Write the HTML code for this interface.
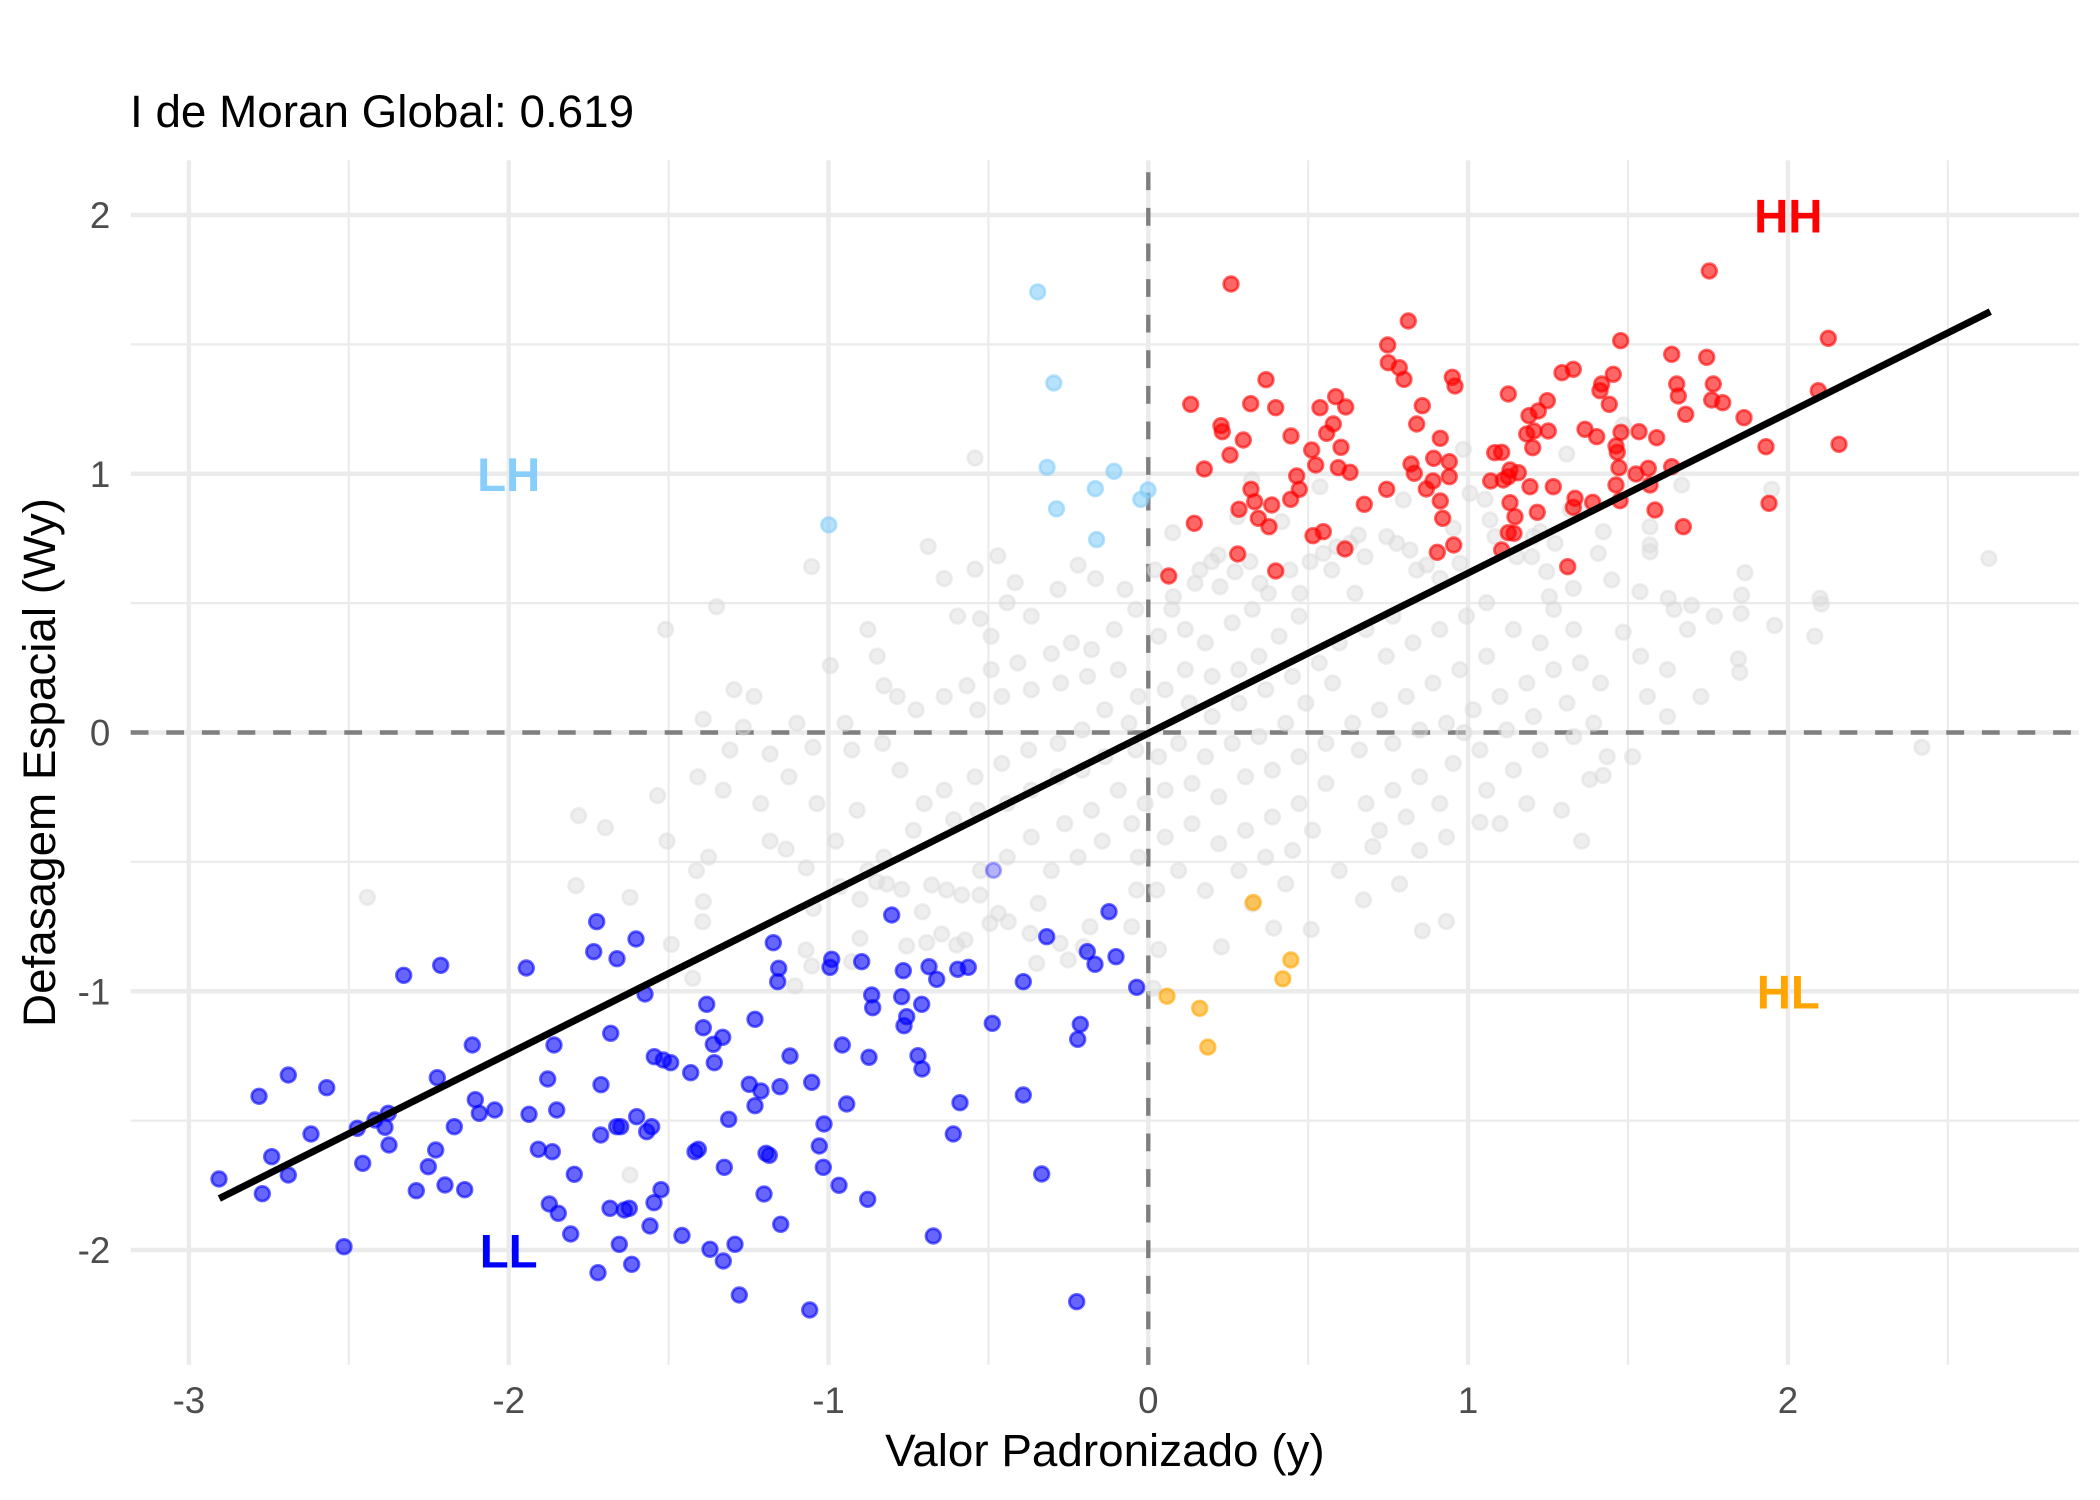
<!DOCTYPE html>
<html><head><meta charset="utf-8"><style>html,body{margin:0;padding:0;background:#fff}svg{display:block}</style></head>
<body>
<svg width="2100" height="1500" viewBox="0 0 2100 1500" xmlns="http://www.w3.org/2000/svg" font-family="'Liberation Sans', Arial, sans-serif">
<rect width="2100" height="1500" fill="#fff"/>
<g stroke="#EBEBEB" stroke-width="2.2">
<line x1="348.8" y1="160.2" x2="348.8" y2="1364.9"/><line x1="668.6" y1="160.2" x2="668.6" y2="1364.9"/><line x1="988.4" y1="160.2" x2="988.4" y2="1364.9"/><line x1="1308.2" y1="160.2" x2="1308.2" y2="1364.9"/><line x1="1628" y1="160.2" x2="1628" y2="1364.9"/><line x1="1947.8" y1="160.2" x2="1947.8" y2="1364.9"/>
<line x1="130.7" y1="344.4" x2="2079" y2="344.4"/><line x1="130.7" y1="603.1" x2="2079" y2="603.1"/><line x1="130.7" y1="861.9" x2="2079" y2="861.9"/><line x1="130.7" y1="1120.6" x2="2079" y2="1120.6"/>
</g>
<g stroke="#EBEBEB" stroke-width="4.4">
<line x1="188.9" y1="160.2" x2="188.9" y2="1364.9"/><line x1="508.7" y1="160.2" x2="508.7" y2="1364.9"/><line x1="828.5" y1="160.2" x2="828.5" y2="1364.9"/><line x1="1148.3" y1="160.2" x2="1148.3" y2="1364.9"/><line x1="1468.1" y1="160.2" x2="1468.1" y2="1364.9"/><line x1="1787.9" y1="160.2" x2="1787.9" y2="1364.9"/>
<line x1="130.7" y1="215" x2="2079" y2="215"/><line x1="130.7" y1="473.75" x2="2079" y2="473.75"/><line x1="130.7" y1="732.5" x2="2079" y2="732.5"/><line x1="130.7" y1="991.25" x2="2079" y2="991.25"/><line x1="130.7" y1="1250" x2="2079" y2="1250"/>
</g>
<g stroke="#7F7F7F" stroke-width="4.4" stroke-dasharray="17.8 17.8">
<line x1="130.7" y1="732.5" x2="2079" y2="732.5"/>
<line x1="1148.3" y1="1364.9" x2="1148.3" y2="160.2"/>
</g>

<!-- grey (non-significant) points, real coords -->
<g fill="#DADADA" fill-opacity="0.45" stroke="#DADADA" stroke-opacity="0.45" stroke-width="2.8">
<circle cx="703.3" cy="901.7" r="7.3"/><circle cx="702.7" cy="921.7" r="7.3"/><circle cx="692.7" cy="978.3" r="7.3"/><circle cx="795" cy="986" r="7.3"/><circle cx="813.3" cy="908.3" r="7.3"/><circle cx="806" cy="950" r="7.3"/><circle cx="811.7" cy="966" r="7.3"/><circle cx="860" cy="899.3" r="7.3"/><circle cx="860" cy="938.3" r="7.3"/><circle cx="851.7" cy="961.7" r="7.3"/><circle cx="876.7" cy="881.7" r="7.3"/><circle cx="901.7" cy="889.3" r="7.3"/><circle cx="922.3" cy="911.7" r="7.3"/><circle cx="906.7" cy="946" r="7.3"/><circle cx="926.7" cy="942.7" r="7.3"/><circle cx="941.7" cy="934" r="7.3"/><circle cx="956.7" cy="945" r="7.3"/><circle cx="965" cy="940" r="7.3"/><circle cx="946.7" cy="890" r="7.3"/><circle cx="961.7" cy="895" r="7.3"/><circle cx="980" cy="895" r="7.3"/><circle cx="998.3" cy="913.3" r="7.3"/><circle cx="990" cy="923.3" r="7.3"/><circle cx="1008.3" cy="921.7" r="7.3"/><circle cx="1030" cy="933.3" r="7.3"/><circle cx="1038.3" cy="903.3" r="7.3"/><circle cx="1036.7" cy="963.3" r="7.3"/><circle cx="1068.3" cy="960" r="7.3"/><circle cx="1060" cy="943.3" r="7.3"/><circle cx="1090" cy="926.7" r="7.3"/><circle cx="1083.3" cy="946.7" r="7.3"/><circle cx="1131.7" cy="926.7" r="7.3"/><circle cx="1136.7" cy="890" r="7.3"/><circle cx="1153.3" cy="988.3" r="7.3"/><circle cx="1156.7" cy="890" r="7.3"/><circle cx="931.7" cy="885" r="7.3"/><circle cx="886.7" cy="884" r="7.3"/><circle cx="840" cy="886.7" r="7.3"/>
<circle cx="1463.3" cy="449.3" r="7.3"/><circle cx="1470" cy="493.3" r="7.3"/><circle cx="1485" cy="499.3" r="7.3"/><circle cx="1490" cy="520" r="7.3"/><circle cx="1495" cy="536.7" r="7.3"/><circle cx="1172.7" cy="532.7" r="7.3"/><circle cx="1320" cy="486.7" r="7.3"/><circle cx="1251.7" cy="480" r="7.3"/><circle cx="1237.3" cy="516.7" r="7.3"/><circle cx="1281.7" cy="521.7" r="7.3"/><circle cx="1218.3" cy="555" r="7.3"/><circle cx="1211.7" cy="561.7" r="7.3"/><circle cx="1200" cy="570" r="7.3"/><circle cx="1195" cy="583.3" r="7.3"/><circle cx="1220" cy="586.7" r="7.3"/><circle cx="1235" cy="571.7" r="7.3"/><circle cx="1250" cy="561.7" r="7.3"/><circle cx="1260" cy="583.3" r="7.3"/><circle cx="1268.3" cy="593.3" r="7.3"/><circle cx="1290" cy="570" r="7.3"/><circle cx="1310" cy="561.7" r="7.3"/><circle cx="1331.7" cy="570" r="7.3"/><circle cx="1323.3" cy="553.3" r="7.3"/><circle cx="1336.7" cy="546.7" r="7.3"/><circle cx="1350" cy="543.3" r="7.3"/><circle cx="1358.3" cy="535" r="7.3"/><circle cx="1365" cy="556.7" r="7.3"/><circle cx="1386.7" cy="536.7" r="7.3"/><circle cx="1396.7" cy="543.3" r="7.3"/><circle cx="1410" cy="550" r="7.3"/><circle cx="1416.7" cy="570" r="7.3"/><circle cx="1426.7" cy="565" r="7.3"/><circle cx="1440" cy="578.3" r="7.3"/><circle cx="1453.3" cy="528.3" r="7.3"/><circle cx="1460" cy="563.3" r="7.3"/><circle cx="1403.3" cy="500" r="7.3"/><circle cx="1355" cy="593.3" r="7.3"/><circle cx="1300" cy="593.3" r="7.3"/><circle cx="1173.3" cy="596.7" r="7.3"/><circle cx="1155" cy="570" r="7.3"/>
<circle cx="1566.7" cy="454" r="7.3"/><circle cx="1623.3" cy="425" r="7.3"/><circle cx="1681.7" cy="485" r="7.3"/><circle cx="1771.7" cy="489.3" r="7.3"/><circle cx="1650" cy="526.7" r="7.3"/><circle cx="1650" cy="545" r="7.3"/><circle cx="1650" cy="551.7" r="7.3"/><circle cx="1603.3" cy="531.7" r="7.3"/><circle cx="1598.3" cy="553.3" r="7.3"/><circle cx="1555" cy="543.3" r="7.3"/><circle cx="1533.3" cy="536.7" r="7.3"/><circle cx="1540" cy="531.7" r="7.3"/><circle cx="1516.7" cy="556.7" r="7.3"/><circle cx="1531.7" cy="556.7" r="7.3"/><circle cx="1546.7" cy="571.7" r="7.3"/><circle cx="1573.3" cy="588.3" r="7.3"/><circle cx="1611.7" cy="580" r="7.3"/><circle cx="1640" cy="591.7" r="7.3"/><circle cx="1668.3" cy="598.3" r="7.3"/><circle cx="1745" cy="572.7" r="7.3"/><circle cx="1741.7" cy="595" r="7.3"/><circle cx="1549.3" cy="596.7" r="7.3"/><circle cx="1820" cy="598.3" r="7.3"/><circle cx="1570" cy="510" r="7.3"/><circle cx="1580" cy="510" r="7.3"/>
<circle cx="367.3" cy="897.3" r="7.3"/><circle cx="576" cy="885.7" r="7.3"/><circle cx="630" cy="897.3" r="7.3"/><circle cx="671.3" cy="944.3" r="7.3"/><circle cx="630" cy="1175" r="7.3"/>
</g>
<!-- grey points, estimated from overview (scaled) -->
<g transform="scale(1.3393)" fill="#DADADA" fill-opacity="0.45" stroke="#DADADA" stroke-opacity="0.45" stroke-width="2.09">
<circle cx="432" cy="609" r="5.45"/><circle cx="452" cy="618" r="5.45"/><circle cx="497" cy="470" r="5.45"/><circle cx="535" cy="453" r="5.45"/><circle cx="548" cy="515" r="5.45"/><circle cx="525" cy="537" r="5.45"/><circle cx="521" cy="580" r="5.45"/><circle cx="491" cy="594" r="5.45"/><circle cx="498" cy="628" r="5.45"/><circle cx="520" cy="650" r="5.45"/><circle cx="529" cy="640" r="5.45"/><circle cx="555" cy="543" r="5.45"/><circle cx="540" cy="590" r="5.45"/><circle cx="545" cy="560" r="5.45"/><circle cx="563" cy="520" r="5.45"/>
<circle cx="606" cy="423" r="5.45"/><circle cx="620" cy="497" r="5.45"/><circle cx="595" cy="540" r="5.45"/><circle cx="607" cy="558" r="5.45"/><circle cx="589" cy="580" r="5.45"/><circle cx="575" cy="563" r="5.45"/><circle cx="568" cy="600" r="5.45"/><circle cx="575" cy="628" r="5.45"/><circle cx="587" cy="634" r="5.45"/><circle cx="610" cy="600" r="5.45"/><circle cx="602" cy="648" r="5.45"/><circle cx="631" cy="540" r="5.45"/><circle cx="636" cy="560" r="5.45"/><circle cx="648" cy="470" r="5.45"/><circle cx="655" cy="490" r="5.45"/><circle cx="660" cy="512" r="5.45"/><circle cx="670" cy="520" r="5.45"/><circle cx="684" cy="530" r="5.45"/><circle cx="659" cy="555" r="5.45"/><circle cx="672" cy="575" r="5.45"/><circle cx="690" cy="600" r="5.45"/><circle cx="682" cy="620" r="5.45"/><circle cx="660" cy="640" r="5.45"/><circle cx="624" cy="628" r="5.45"/><circle cx="640" cy="605" r="5.45"/><circle cx="648" cy="650" r="5.45"/>
<circle cx="693" cy="408" r="5.45"/><circle cx="728" cy="342" r="5.45"/><circle cx="705" cy="432" r="5.45"/><circle cx="728" cy="425" r="5.45"/><circle cx="745" cy="415" r="5.45"/><circle cx="758" cy="435" r="5.45"/><circle cx="715" cy="460" r="5.45"/><circle cx="732" cy="462" r="5.45"/><circle cx="740" cy="475" r="5.45"/><circle cx="752" cy="450" r="5.45"/><circle cx="770" cy="460" r="5.45"/><circle cx="790" cy="440" r="5.45"/><circle cx="805" cy="422" r="5.45"/><circle cx="818" cy="432" r="5.45"/><circle cx="840" cy="440" r="5.45"/><circle cx="848" cy="455" r="5.45"/><circle cx="832" cy="470" r="5.45"/><circle cx="815" cy="485" r="5.45"/><circle cx="800" cy="480" r="5.45"/><circle cx="785" cy="488" r="5.45"/><circle cx="760" cy="495" r="5.45"/><circle cx="740" cy="500" r="5.45"/><circle cx="722" cy="512" r="5.45"/><circle cx="705" cy="520" r="5.45"/><circle cx="730" cy="530" r="5.45"/><circle cx="748" cy="520" r="5.45"/><circle cx="770" cy="515" r="5.45"/><circle cx="792" cy="510" r="5.45"/><circle cx="812" cy="505" r="5.45"/><circle cx="835" cy="500" r="5.45"/><circle cx="850" cy="520" r="5.45"/><circle cx="843" cy="540" r="5.45"/><circle cx="825" cy="530" r="5.45"/><circle cx="808" cy="545" r="5.45"/><circle cx="790" cy="555" r="5.45"/><circle cx="768" cy="560" r="5.45"/><circle cx="748" cy="570" r="5.45"/><circle cx="728" cy="580" r="5.45"/><circle cx="705" cy="590" r="5.45"/><circle cx="712" cy="612" r="5.45"/><circle cx="730" cy="605" r="5.45"/><circle cx="752" cy="600" r="5.45"/><circle cx="770" cy="590" r="5.45"/><circle cx="790" cy="580" r="5.45"/><circle cx="808" cy="575" r="5.45"/><circle cx="825" cy="565" r="5.45"/><circle cx="848" cy="560" r="5.45"/><circle cx="835" cy="590" r="5.45"/><circle cx="815" cy="605" r="5.45"/><circle cx="795" cy="615" r="5.45"/><circle cx="770" cy="625" r="5.45"/><circle cx="752" cy="640" r="5.45"/><circle cx="732" cy="650" r="5.45"/><circle cx="785" cy="650" r="5.45"/><circle cx="805" cy="640" r="5.45"/><circle cx="823" cy="628" r="5.45"/><circle cx="845" cy="615" r="5.45"/><circle cx="855" cy="600" r="5.45"/><circle cx="850" cy="640" r="5.45"/>
<circle cx="875" cy="455" r="5.45"/><circle cx="865" cy="475" r="5.45"/><circle cx="885" cy="470" r="5.45"/><circle cx="900" cy="480" r="5.45"/><circle cx="920" cy="465" r="5.45"/><circle cx="935" cy="455" r="5.45"/><circle cx="970" cy="460" r="5.45"/><circle cx="955" cy="475" r="5.45"/><circle cx="940" cy="490" r="5.45"/><circle cx="925" cy="500" r="5.45"/><circle cx="905" cy="505" r="5.45"/><circle cx="885" cy="500" r="5.45"/><circle cx="870" cy="515" r="5.45"/><circle cx="888" cy="525" r="5.45"/><circle cx="905" cy="535" r="5.45"/><circle cx="925" cy="525" r="5.45"/><circle cx="945" cy="515" r="5.45"/><circle cx="965" cy="505" r="5.45"/><circle cx="985" cy="495" r="5.45"/><circle cx="1000" cy="480" r="5.45"/><circle cx="995" cy="510" r="5.45"/><circle cx="975" cy="525" r="5.45"/><circle cx="960" cy="540" r="5.45"/><circle cx="940" cy="550" r="5.45"/><circle cx="920" cy="555" r="5.45"/><circle cx="900" cy="565" r="5.45"/><circle cx="880" cy="555" r="5.45"/><circle cx="865" cy="565" r="5.45"/><circle cx="870" cy="590" r="5.45"/><circle cx="890" cy="585" r="5.45"/><circle cx="910" cy="595" r="5.45"/><circle cx="930" cy="580" r="5.45"/><circle cx="950" cy="575" r="5.45"/><circle cx="970" cy="565" r="5.45"/><circle cx="990" cy="555" r="5.45"/><circle cx="990" cy="585" r="5.45"/><circle cx="970" cy="600" r="5.45"/><circle cx="950" cy="610" r="5.45"/><circle cx="930" cy="620" r="5.45"/><circle cx="910" cy="630" r="5.45"/><circle cx="890" cy="615" r="5.45"/><circle cx="870" cy="625" r="5.45"/><circle cx="880" cy="650" r="5.45"/><circle cx="900" cy="665" r="5.45"/><circle cx="925" cy="650" r="5.45"/><circle cx="945" cy="640" r="5.45"/><circle cx="965" cy="635" r="5.45"/><circle cx="980" cy="620" r="5.45"/><circle cx="960" cy="660" r="5.45"/><circle cx="935" cy="675" r="5.45"/><circle cx="912" cy="707" r="5.45"/><circle cx="865" cy="709" r="5.45"/><circle cx="951" cy="693" r="5.45"/><circle cx="979" cy="694" r="5.45"/><circle cx="1000" cy="650" r="5.45"/>
<circle cx="1040" cy="460" r="5.45"/><circle cx="1020" cy="470" r="5.45"/><circle cx="1035" cy="490" r="5.45"/><circle cx="1055" cy="480" r="5.45"/><circle cx="1075" cy="470" r="5.45"/><circle cx="1095" cy="460" r="5.45"/><circle cx="1110" cy="450" r="5.45"/><circle cx="1160" cy="455" r="5.45"/><circle cx="1175" cy="470" r="5.45"/><circle cx="1150" cy="480" r="5.45"/><circle cx="1130" cy="470" r="5.45"/><circle cx="1110" cy="490" r="5.45"/><circle cx="1090" cy="500" r="5.45"/><circle cx="1070" cy="510" r="5.45"/><circle cx="1050" cy="520" r="5.45"/><circle cx="1030" cy="530" r="5.45"/><circle cx="1010" cy="540" r="5.45"/><circle cx="1015" cy="560" r="5.45"/><circle cx="1040" cy="555" r="5.45"/><circle cx="1060" cy="545" r="5.45"/><circle cx="1080" cy="540" r="5.45"/><circle cx="1100" cy="530" r="5.45"/><circle cx="1120" cy="520" r="5.45"/><circle cx="1140" cy="510" r="5.45"/><circle cx="1160" cy="500" r="5.45"/><circle cx="1180" cy="495" r="5.45"/><circle cx="1195" cy="510" r="5.45"/><circle cx="1170" cy="525" r="5.45"/><circle cx="1145" cy="535" r="5.45"/><circle cx="1125" cy="545" r="5.45"/><circle cx="1105" cy="560" r="5.45"/><circle cx="1085" cy="570" r="5.45"/><circle cx="1060" cy="580" r="5.45"/><circle cx="1040" cy="590" r="5.45"/><circle cx="1020" cy="600" r="5.45"/><circle cx="1030" cy="620" r="5.45"/><circle cx="1050" cy="610" r="5.45"/><circle cx="1075" cy="600" r="5.45"/><circle cx="1093" cy="547" r="5.45"/><circle cx="1110" cy="590" r="5.45"/><circle cx="1130" cy="575" r="5.45"/><circle cx="1150" cy="560" r="5.45"/><circle cx="1175" cy="550" r="5.45"/><circle cx="1190" cy="540" r="5.45"/><circle cx="1200" cy="565" r="5.45"/><circle cx="1187" cy="582" r="5.45"/><circle cx="1166" cy="605" r="5.45"/><circle cx="1181" cy="628" r="5.45"/><circle cx="1140" cy="600" r="5.45"/><circle cx="1120" cy="615" r="5.45"/><circle cx="1105" cy="614" r="5.45"/><circle cx="1080" cy="625" r="5.45"/><circle cx="1060" cy="635" r="5.45"/><circle cx="1025" cy="632" r="5.45"/><circle cx="1018" cy="672" r="5.45"/><circle cx="1062" cy="695" r="5.45"/><circle cx="1080" cy="688" r="5.45"/><circle cx="1045" cy="660" r="5.45"/>
<circle cx="1212" cy="472" r="5.45"/><circle cx="1225" cy="490" r="5.45"/><circle cx="1245" cy="500" r="5.45"/><circle cx="1260" cy="470" r="5.45"/><circle cx="1280" cy="460" r="5.45"/><circle cx="1298" cy="492" r="5.45"/><circle cx="1299" cy="502" r="5.45"/><circle cx="1325" cy="467" r="5.45"/><circle cx="1360" cy="451" r="5.45"/><circle cx="1270" cy="520" r="5.45"/><circle cx="1230" cy="520" r="5.45"/><circle cx="1219" cy="565" r="5.45"/><circle cx="1197" cy="579" r="5.45"/><circle cx="1245" cy="535" r="5.45"/><circle cx="1485" cy="417" r="5.45"/><circle cx="1435" cy="558" r="5.45"/><circle cx="1355" cy="475" r="5.45"/><circle cx="1250" cy="455" r="5.45"/><circle cx="1263" cy="452" r="5.45"/><circle cx="1300" cy="458" r="5.45"/>
</g>

<!-- faint blue partly covered -->
<circle cx="993.5" cy="870.4" r="7.3" fill="#0000FF" fill-opacity="0.3" stroke="#0000FF" stroke-opacity="0.3" stroke-width="2.8"/>

<!-- HH red -->
<g fill="#FF0000" fill-opacity="0.6" stroke="#FF0000" stroke-opacity="0.6" stroke-width="2.8">
<circle cx="1231" cy="284" r="7.3"/><circle cx="1408.3" cy="321" r="7.3"/><circle cx="1387.7" cy="345" r="7.3"/><circle cx="1388.3" cy="362.7" r="7.3"/><circle cx="1399.3" cy="367.7" r="7.3"/><circle cx="1404" cy="379.3" r="7.3"/><circle cx="1452.3" cy="377.3" r="7.3"/><circle cx="1455" cy="386" r="7.3"/><circle cx="1266" cy="379.7" r="7.3"/><circle cx="1190.7" cy="404.3" r="7.3"/><circle cx="1250.7" cy="403.7" r="7.3"/><circle cx="1275.7" cy="407.7" r="7.3"/><circle cx="1320" cy="407.7" r="7.3"/><circle cx="1335.7" cy="396.7" r="7.3"/><circle cx="1345.7" cy="407" r="7.3"/><circle cx="1333.3" cy="424" r="7.3"/><circle cx="1326.7" cy="433.3" r="7.3"/><circle cx="1221" cy="425.7" r="7.3"/><circle cx="1222.3" cy="431.7" r="7.3"/><circle cx="1243.3" cy="440" r="7.3"/><circle cx="1230" cy="455" r="7.3"/><circle cx="1291" cy="436" r="7.3"/><circle cx="1311.7" cy="450" r="7.3"/><circle cx="1315.7" cy="465" r="7.3"/><circle cx="1341" cy="447.3" r="7.3"/><circle cx="1338.3" cy="467.7" r="7.3"/><circle cx="1350" cy="472.3" r="7.3"/><circle cx="1204.3" cy="469" r="7.3"/><circle cx="1422.3" cy="405.7" r="7.3"/><circle cx="1416.7" cy="424" r="7.3"/><circle cx="1440.3" cy="438.3" r="7.3"/><circle cx="1411" cy="464" r="7.3"/><circle cx="1414.3" cy="473.3" r="7.3"/><circle cx="1433.7" cy="458.3" r="7.3"/><circle cx="1449.3" cy="461.7" r="7.3"/><circle cx="1449.3" cy="476.7" r="7.3"/><circle cx="1433" cy="481" r="7.3"/><circle cx="1426.3" cy="489" r="7.3"/><circle cx="1440.3" cy="501" r="7.3"/><circle cx="1442.7" cy="518.3" r="7.3"/><circle cx="1494.7" cy="452.7" r="7.3"/><circle cx="1490.7" cy="481" r="7.3"/><circle cx="1296.7" cy="476" r="7.3"/><circle cx="1299.3" cy="489.3" r="7.3"/><circle cx="1290.7" cy="499.3" r="7.3"/><circle cx="1251" cy="489.3" r="7.3"/><circle cx="1254.7" cy="501.7" r="7.3"/><circle cx="1271.7" cy="505" r="7.3"/><circle cx="1239" cy="509.3" r="7.3"/><circle cx="1258.3" cy="518.3" r="7.3"/><circle cx="1269" cy="526.7" r="7.3"/><circle cx="1194.3" cy="523.3" r="7.3"/><circle cx="1386.7" cy="489.3" r="7.3"/><circle cx="1364.3" cy="504.3" r="7.3"/><circle cx="1313" cy="535.7" r="7.3"/><circle cx="1323.3" cy="531.7" r="7.3"/><circle cx="1345" cy="549" r="7.3"/><circle cx="1237.7" cy="554" r="7.3"/><circle cx="1168.7" cy="576" r="7.3"/><circle cx="1275.7" cy="571" r="7.3"/><circle cx="1437.3" cy="552.3" r="7.3"/><circle cx="1453.7" cy="545" r="7.3"/>
<circle cx="1709.3" cy="271" r="7.3"/><circle cx="1828.3" cy="338.3" r="7.3"/><circle cx="1620.7" cy="340.7" r="7.3"/><circle cx="1671.7" cy="354.3" r="7.3"/><circle cx="1706.7" cy="357.3" r="7.3"/><circle cx="1508.3" cy="394" r="7.3"/><circle cx="1562" cy="372.7" r="7.3"/><circle cx="1573.3" cy="369.3" r="7.3"/><circle cx="1613.3" cy="374.3" r="7.3"/><circle cx="1601.7" cy="384" r="7.3"/><circle cx="1600" cy="390.7" r="7.3"/><circle cx="1609.3" cy="404.3" r="7.3"/><circle cx="1547.3" cy="400.7" r="7.3"/><circle cx="1538.3" cy="411" r="7.3"/><circle cx="1529" cy="415.7" r="7.3"/><circle cx="1534" cy="431" r="7.3"/><circle cx="1526.7" cy="434" r="7.3"/><circle cx="1532.7" cy="447.7" r="7.3"/><circle cx="1548.3" cy="431" r="7.3"/><circle cx="1585" cy="429.3" r="7.3"/><circle cx="1596.7" cy="436.7" r="7.3"/><circle cx="1621" cy="432.3" r="7.3"/><circle cx="1639" cy="431.7" r="7.3"/><circle cx="1656.7" cy="437.7" r="7.3"/><circle cx="1676.7" cy="384" r="7.3"/><circle cx="1678.3" cy="396" r="7.3"/><circle cx="1685.7" cy="414.3" r="7.3"/><circle cx="1713.3" cy="384" r="7.3"/><circle cx="1711.7" cy="400" r="7.3"/><circle cx="1722.7" cy="402.7" r="7.3"/><circle cx="1744" cy="417.7" r="7.3"/><circle cx="1818.3" cy="390.7" r="7.3"/><circle cx="1766" cy="446.7" r="7.3"/><circle cx="1839" cy="444.3" r="7.3"/><circle cx="1616" cy="446" r="7.3"/><circle cx="1617.3" cy="452.3" r="7.3"/><circle cx="1619" cy="467.7" r="7.3"/><circle cx="1636" cy="474" r="7.3"/><circle cx="1648.3" cy="468.3" r="7.3"/><circle cx="1671.7" cy="466.7" r="7.3"/><circle cx="1650" cy="485" r="7.3"/><circle cx="1616" cy="485" r="7.3"/><circle cx="1620" cy="500.7" r="7.3"/><circle cx="1655" cy="510" r="7.3"/><circle cx="1683.3" cy="526.7" r="7.3"/><circle cx="1769" cy="503.3" r="7.3"/><circle cx="1553.3" cy="486.7" r="7.3"/><circle cx="1530" cy="486.7" r="7.3"/><circle cx="1510" cy="470" r="7.3"/><circle cx="1518.3" cy="472.7" r="7.3"/><circle cx="1503.3" cy="480" r="7.3"/><circle cx="1501.7" cy="452.3" r="7.3"/><circle cx="1508.3" cy="476.7" r="7.3"/><circle cx="1510" cy="502.7" r="7.3"/><circle cx="1515" cy="516.7" r="7.3"/><circle cx="1537.3" cy="512.3" r="7.3"/><circle cx="1575" cy="498.3" r="7.3"/><circle cx="1573.3" cy="507.3" r="7.3"/><circle cx="1592.7" cy="502.3" r="7.3"/><circle cx="1508.3" cy="532.7" r="7.3"/><circle cx="1514" cy="533.3" r="7.3"/><circle cx="1501.7" cy="550" r="7.3"/><circle cx="1567.7" cy="566.7" r="7.3"/>
</g>

<!-- LL blue -->
<g fill="#0000FF" fill-opacity="0.6" stroke="#0000FF" stroke-opacity="0.6" stroke-width="2.8">
<circle cx="596.7" cy="921.7" r="7.3"/><circle cx="636" cy="939" r="7.3"/><circle cx="593.7" cy="951.7" r="7.3"/><circle cx="617" cy="958.7" r="7.3"/><circle cx="526.3" cy="968" r="7.3"/><circle cx="440.7" cy="965.3" r="7.3"/><circle cx="403.7" cy="975.3" r="7.3"/><circle cx="645" cy="994" r="7.3"/><circle cx="610.7" cy="1033.3" r="7.3"/><circle cx="654.3" cy="1056.7" r="7.3"/><circle cx="663.3" cy="1060" r="7.3"/><circle cx="670.7" cy="1062.7" r="7.3"/><circle cx="472.3" cy="1045" r="7.3"/><circle cx="554" cy="1045" r="7.3"/><circle cx="437.3" cy="1077.7" r="7.3"/><circle cx="547.7" cy="1079" r="7.3"/><circle cx="601" cy="1084.7" r="7.3"/><circle cx="288.3" cy="1075" r="7.3"/><circle cx="259" cy="1096.3" r="7.3"/><circle cx="326.7" cy="1087.7" r="7.3"/><circle cx="475.3" cy="1099.7" r="7.3"/><circle cx="479.3" cy="1113.3" r="7.3"/><circle cx="494.7" cy="1110" r="7.3"/><circle cx="529" cy="1114.3" r="7.3"/><circle cx="556.7" cy="1110" r="7.3"/><circle cx="636.7" cy="1116.7" r="7.3"/><circle cx="620.7" cy="1126.7" r="7.3"/><circle cx="616.7" cy="1126.7" r="7.3"/><circle cx="651.7" cy="1126.7" r="7.3"/><circle cx="646.7" cy="1131.7" r="7.3"/><circle cx="600.7" cy="1135" r="7.3"/><circle cx="388.3" cy="1113.3" r="7.3"/><circle cx="375" cy="1120" r="7.3"/><circle cx="357.3" cy="1128.3" r="7.3"/><circle cx="385" cy="1127.3" r="7.3"/><circle cx="454.3" cy="1126.7" r="7.3"/><circle cx="311" cy="1134" r="7.3"/><circle cx="389" cy="1145" r="7.3"/><circle cx="435.7" cy="1150" r="7.3"/><circle cx="538.3" cy="1149.3" r="7.3"/><circle cx="552.3" cy="1151.7" r="7.3"/><circle cx="271.7" cy="1156.7" r="7.3"/><circle cx="362.7" cy="1163.3" r="7.3"/><circle cx="428.3" cy="1166.7" r="7.3"/><circle cx="574.3" cy="1174.3" r="7.3"/><circle cx="219" cy="1179" r="7.3"/><circle cx="288.3" cy="1175" r="7.3"/><circle cx="262.3" cy="1193.7" r="7.3"/><circle cx="416.3" cy="1190.7" r="7.3"/><circle cx="445" cy="1185" r="7.3"/><circle cx="464.7" cy="1189.7" r="7.3"/><circle cx="661" cy="1189.7" r="7.3"/><circle cx="654" cy="1202.7" r="7.3"/><circle cx="549.3" cy="1204" r="7.3"/><circle cx="558.3" cy="1213.3" r="7.3"/><circle cx="610" cy="1208.3" r="7.3"/><circle cx="624.3" cy="1210" r="7.3"/><circle cx="629.3" cy="1208.3" r="7.3"/><circle cx="650" cy="1226" r="7.3"/><circle cx="570.7" cy="1234" r="7.3"/><circle cx="619.3" cy="1244.3" r="7.3"/><circle cx="682" cy="1235.5" r="7.3"/><circle cx="344" cy="1246.7" r="7.3"/><circle cx="631.7" cy="1264.3" r="7.3"/><circle cx="598" cy="1272.7" r="7.3"/>
<circle cx="891.7" cy="915" r="7.3"/><circle cx="1109" cy="911.7" r="7.3"/><circle cx="1046.7" cy="936.7" r="7.3"/><circle cx="773.3" cy="942.7" r="7.3"/><circle cx="1087.3" cy="951.7" r="7.3"/><circle cx="1095" cy="964.3" r="7.3"/><circle cx="1116" cy="956.7" r="7.3"/><circle cx="778.7" cy="968.3" r="7.3"/><circle cx="777.7" cy="981.7" r="7.3"/><circle cx="831.7" cy="959.3" r="7.3"/><circle cx="830" cy="967.3" r="7.3"/><circle cx="861.7" cy="961.7" r="7.3"/><circle cx="903.3" cy="970.7" r="7.3"/><circle cx="929" cy="966.7" r="7.3"/><circle cx="936.7" cy="979.3" r="7.3"/><circle cx="957.7" cy="969.3" r="7.3"/><circle cx="968.3" cy="967.3" r="7.3"/><circle cx="1023.3" cy="981.7" r="7.3"/><circle cx="1136.7" cy="987.3" r="7.3"/><circle cx="706.7" cy="1004.3" r="7.3"/><circle cx="871.7" cy="995" r="7.3"/><circle cx="872.7" cy="1007.7" r="7.3"/><circle cx="901.7" cy="996.7" r="7.3"/><circle cx="921.7" cy="1004.3" r="7.3"/><circle cx="906.7" cy="1016.7" r="7.3"/><circle cx="904" cy="1025.7" r="7.3"/><circle cx="755" cy="1019.3" r="7.3"/><circle cx="703.3" cy="1027.7" r="7.3"/><circle cx="722.7" cy="1037.3" r="7.3"/><circle cx="713.3" cy="1044.3" r="7.3"/><circle cx="714.3" cy="1062.7" r="7.3"/><circle cx="690.7" cy="1072.7" r="7.3"/><circle cx="842.3" cy="1045" r="7.3"/><circle cx="869" cy="1057.3" r="7.3"/><circle cx="918" cy="1055.7" r="7.3"/><circle cx="922" cy="1069" r="7.3"/><circle cx="992.3" cy="1023.3" r="7.3"/><circle cx="1080.3" cy="1024.3" r="7.3"/><circle cx="1077.7" cy="1039.3" r="7.3"/><circle cx="790" cy="1056" r="7.3"/><circle cx="749.3" cy="1084.3" r="7.3"/><circle cx="761" cy="1091" r="7.3"/><circle cx="755" cy="1105.7" r="7.3"/><circle cx="780" cy="1086.7" r="7.3"/><circle cx="811.7" cy="1082.3" r="7.3"/><circle cx="846.7" cy="1104" r="7.3"/><circle cx="960" cy="1102.7" r="7.3"/><circle cx="1023.3" cy="1095" r="7.3"/><circle cx="728.7" cy="1119.3" r="7.3"/><circle cx="824" cy="1124" r="7.3"/><circle cx="953.3" cy="1134" r="7.3"/><circle cx="695" cy="1151.7" r="7.3"/><circle cx="698.3" cy="1149.3" r="7.3"/><circle cx="766" cy="1153.3" r="7.3"/><circle cx="769.3" cy="1155.3" r="7.3"/><circle cx="724.3" cy="1167.3" r="7.3"/><circle cx="819.3" cy="1146" r="7.3"/><circle cx="823.3" cy="1167.3" r="7.3"/><circle cx="839" cy="1185.3" r="7.3"/><circle cx="867.7" cy="1199.3" r="7.3"/><circle cx="1041.7" cy="1174" r="7.3"/><circle cx="764" cy="1194" r="7.3"/><circle cx="780.7" cy="1224.3" r="7.3"/><circle cx="710" cy="1249.3" r="7.3"/><circle cx="735" cy="1244.3" r="7.3"/><circle cx="723.3" cy="1261" r="7.3"/><circle cx="933.3" cy="1236" r="7.3"/><circle cx="739.3" cy="1295" r="7.3"/><circle cx="809.7" cy="1310" r="7.3"/><circle cx="1076.7" cy="1301.7" r="7.3"/>
</g>

<!-- LH light blue -->
<g fill="#87CEFA" fill-opacity="0.6" stroke="#87CEFA" stroke-opacity="0.6" stroke-width="2.8">
<circle cx="1037.7" cy="291.9" r="7.3"/><circle cx="1053.8" cy="383" r="7.3"/><circle cx="1047.1" cy="467.3" r="7.3"/><circle cx="1056.5" cy="508.8" r="7.3"/><circle cx="1095.3" cy="488.7" r="7.3"/><circle cx="1114" cy="471.3" r="7.3"/><circle cx="1148" cy="490" r="7.3"/><circle cx="1140.8" cy="499.4" r="7.3"/><circle cx="1096.6" cy="539.6" r="7.3"/><circle cx="828.8" cy="524.9" r="7.3"/>
</g>

<!-- HL orange -->
<g fill="#FFA500" fill-opacity="0.6" stroke="#FFA500" stroke-opacity="0.6" stroke-width="2.8">
<circle cx="1253.3" cy="902.5" r="7.3"/><circle cx="1290.8" cy="960" r="7.3"/><circle cx="1282.8" cy="978.8" r="7.3"/><circle cx="1167" cy="996.2" r="7.3"/><circle cx="1199.7" cy="1008.3" r="7.3"/><circle cx="1207.8" cy="1047.1" r="7.3"/>
</g>

<!-- regression line -->
<line x1="219.3" y1="1198.5" x2="1990.3" y2="311.6" stroke="#000" stroke-width="7"/>

<!-- quadrant labels -->
<g font-weight="bold" font-size="47.4" text-anchor="middle">
<text x="1788.3" y="232.5" fill="#FF0000">HH</text>
<text x="508.7" y="491.2" fill="#87CEFA">LH</text>
<text x="508.7" y="1267.5" fill="#0000FF">LL</text>
<text x="1788.3" y="1008.7" fill="#FFA500">HL</text>
</g>

<!-- axis tick labels -->
<g font-size="36.7" fill="#4D4D4D" text-anchor="end">
<text x="110.3" y="228">2</text>
<text x="110.3" y="486.8">1</text>
<text x="110.3" y="745.5">0</text>
<text x="110.3" y="1004.3">-1</text>
<text x="110.3" y="1263">-2</text>
</g>
<g font-size="36.7" fill="#4D4D4D" text-anchor="middle">
<text x="188.9" y="1413">-3</text>
<text x="508.7" y="1413">-2</text>
<text x="828.5" y="1413">-1</text>
<text x="1148.3" y="1413">0</text>
<text x="1468.1" y="1413">1</text>
<text x="1787.9" y="1413">2</text>
</g>

<!-- axis titles -->
<text x="1104.9" y="1466" font-size="45.8" fill="#000" text-anchor="middle">Valor Padronizado (y)</text>
<text transform="translate(55,762.5) rotate(-90)" font-size="45.8" fill="#000" text-anchor="middle">Defasagem Espacial (Wy)</text>

<!-- subtitle -->
<text x="130" y="127" font-size="45.8" fill="#000">I de Moran Global: 0.619</text>
</svg>
</body></html>
